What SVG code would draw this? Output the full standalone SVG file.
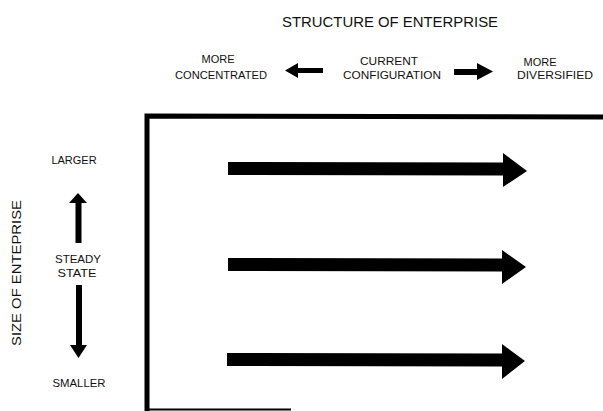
<svg xmlns="http://www.w3.org/2000/svg" width="603" height="411" viewBox="0 0 603 411">
<style>
text{font-family:"Liberation Sans",Arial,sans-serif;fill:#111;text-anchor:middle}
.t{font-size:14px}
.s{font-size:11px}
.v{font-size:13px}
.arr{fill:#000}
.frame{fill:none;stroke:#000;stroke-linecap:square}
</style>
<rect width="603" height="411" fill="#fff"/>
<g id="title"><text class="t" x="390" y="27" textLength="216" lengthAdjust="spacingAndGlyphs">STRUCTURE OF ENTERPRISE</text></g>
<g id="more-concentrated">
<text class="s" x="218" y="63">MORE</text>
<text class="s" x="221" y="79" textLength="92" lengthAdjust="spacingAndGlyphs">CONCENTRATED</text>
</g>
<g id="current-configuration">
<text class="s" x="389" y="65" textLength="58" lengthAdjust="spacingAndGlyphs">CURRENT</text>
<text class="s" x="392" y="79" textLength="98" lengthAdjust="spacingAndGlyphs">CONFIGURATION</text>
</g>
<g id="more-diversified">
<text class="s" x="540" y="66">MORE</text>
<text class="s" x="555" y="79" textLength="76" lengthAdjust="spacingAndGlyphs">DIVERSIFIED</text>
</g>
<g id="size-label"><text class="v" transform="translate(21,273) rotate(-90)" x="0" y="0" textLength="146" lengthAdjust="spacingAndGlyphs">SIZE OF ENTEPRISE</text></g>
<g id="larger"><text class="s" x="74" y="164">LARGER</text></g>
<g id="steady-state">
<text class="s" x="78" y="263" textLength="46" lengthAdjust="spacingAndGlyphs">STEADY</text>
<text class="s" x="77" y="277" textLength="39" lengthAdjust="spacingAndGlyphs">STATE</text>
</g>
<g id="smaller"><text class="s" x="79" y="387" textLength="53" lengthAdjust="spacingAndGlyphs">SMALLER</text></g>
<g id="frame">
<path class="frame" d="M147,410 L147,116 L603,117" stroke-width="5"/>
<line class="frame" x1="147" y1="409.5" x2="290" y2="409.5" stroke-width="2"/>
</g>
<g id="connectors">
<polygon class="arr" points="323,68 298,68 298,63 285,70.5 298,78 298,73 323,73"/>
<polygon class="arr" points="454,69 477,69 477,63 493,71.5 477,80 477,75 454,75"/>
<polygon class="arr" points="75.5,243 75.5,203 69,203 78,193 87,203 81.5,203 81.5,243"/>
<polygon class="arr" points="76,285 76,345 70,345 78.5,358 87,345 82,345 82,285"/>
<polygon class="arr" points="228,162 503,162.5 503,153 527,171 503,187 503,175.5 228,175"/>
<polygon class="arr" points="228,258 502,258.5 502,250 526,267 502,284 502,271.5 228,271"/>
<polygon class="arr" points="227,353 502,353.5 502,344 525,361 502,379 502,366.5 227,366"/>
</g>
</svg>
